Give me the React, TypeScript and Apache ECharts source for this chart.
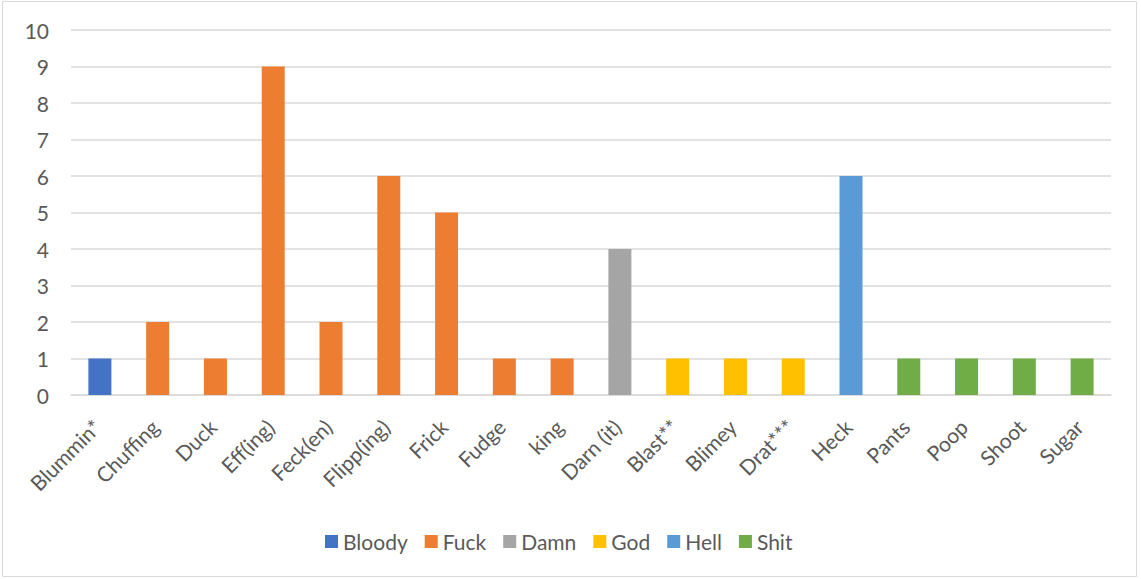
import React, { useEffect, useRef } from "react";
import * as echarts from "echarts";

const categories = [
  "Blummin*", "Chuffing", "Duck", "Eff(ing)", "Feck(en)", "Flipp(ing)", "Frick", "Fudge", "king",
  "Darn (it)", "Blast**", "Blimey", "Drat***", "Heck", "Pants", "Poop", "Shoot", "Sugar",
];
const seriesNames = ["Bloody", "Fuck", "Damn", "God", "Hell", "Shit"];
const seriesColors = ["#4472C4", "#ED7D31", "#A5A5A5", "#FFC000", "#5B9BD5", "#70AD47"];
const bloody = [1, null, null, null, null, null, null, null, null, null, null, null, null, null, null, null, null, null];
const fuck = [null, 2, 1, 9, 2, 6, 5, 1, 1, null, null, null, null, null, null, null, null, null];
const damn = [null, null, null, null, null, null, null, null, null, 4, null, null, null, null, null, null, null, null];
const god = [null, null, null, null, null, null, null, null, null, null, 1, 1, 1, null, null, null, null, null];
const hell = [null, null, null, null, null, null, null, null, null, null, null, null, null, 6, null, null, null, null];
const shit = [null, null, null, null, null, null, null, null, null, null, null, null, null, null, 1, 1, 1, 1];
const seriesValues = [bloody, fuck, damn, god, hell, shit];

const FONT = "Lato, 'Open Sans', sans-serif";
const TEXT = "#595959";

export default function App() {
  const ref = useRef<HTMLDivElement>(null);
  useEffect(() => {
    document.body.style.margin = "0";
    const chart = echarts.init(ref.current!, null, { renderer: "svg" });
    const barSeries = seriesNames.map((name, i) => ({
      name,
      type: "bar",
      stack: "all",
      barWidth: 23,
      data: seriesValues[i],
      itemStyle: { color: seriesColors[i] },
    }));
    const labelSeries = {
      name: "labels",
      type: "custom",
      silent: true,
      clip: false,
      data: categories.map((c, i) => [i, 0]),
      encode: { x: 0, y: 1 },
      renderItem: (params: any, api: any) => {
        const idx = api.value(0);
        const p = api.coord([idx, 0]);
        return {
          type: "text",
          x: p[0] - 3,
          y: p[1] + 28,
          rotation: Math.PI / 4,
          style: {
            text: categories[idx],
            align: "right",
            verticalAlign: "middle",
            fill: TEXT,
            fontSize: 21,
            fontFamily: FONT,
          },
        };
      },
    };
    chart.setOption({
      animation: false,
      backgroundColor: "#ffffff",
      textStyle: { fontFamily: FONT },
      graphic: [
        {
          type: "rect",
          shape: { x: 2.5, y: 1.5, width: 1134, height: 575 },
          style: { fill: "none", stroke: "#d9d9d9", lineWidth: 1 },
          silent: true,
        },
      ],
      grid: { left: 71, right: 30, top: 30, bottom: 184, containLabel: false },
      legend: {
        data: seriesNames,
        bottom: 22,
        left: 320,
        itemWidth: 13,
        itemHeight: 13,
        itemGap: 17,
        icon: "rect",
        textStyle: { fontFamily: FONT, fontSize: 21, color: TEXT },
      },
      xAxis: {
        type: "category",
        data: categories,
        axisLine: { show: true, lineStyle: { color: "#d9d9d9", width: 1.5 } },
        axisTick: { show: false },
        axisLabel: { show: false },
      },
      yAxis: {
        type: "value",
        min: 0,
        max: 10,
        interval: 1,
        axisLine: { show: false },
        axisTick: { show: false },
        splitLine: { lineStyle: { color: "#d9d9d9", width: 1.5 } },
        axisLabel: { fontFamily: FONT, fontSize: 21, color: TEXT, margin: 22 },
      },
      series: [...barSeries, labelSeries],
    });
    return () => chart.dispose();
  }, []);
  return (
    <div
      ref={ref}
      style={{ position: "absolute", left: 0, top: 0, width: 1141, height: 579 }}
    />
  );
}
